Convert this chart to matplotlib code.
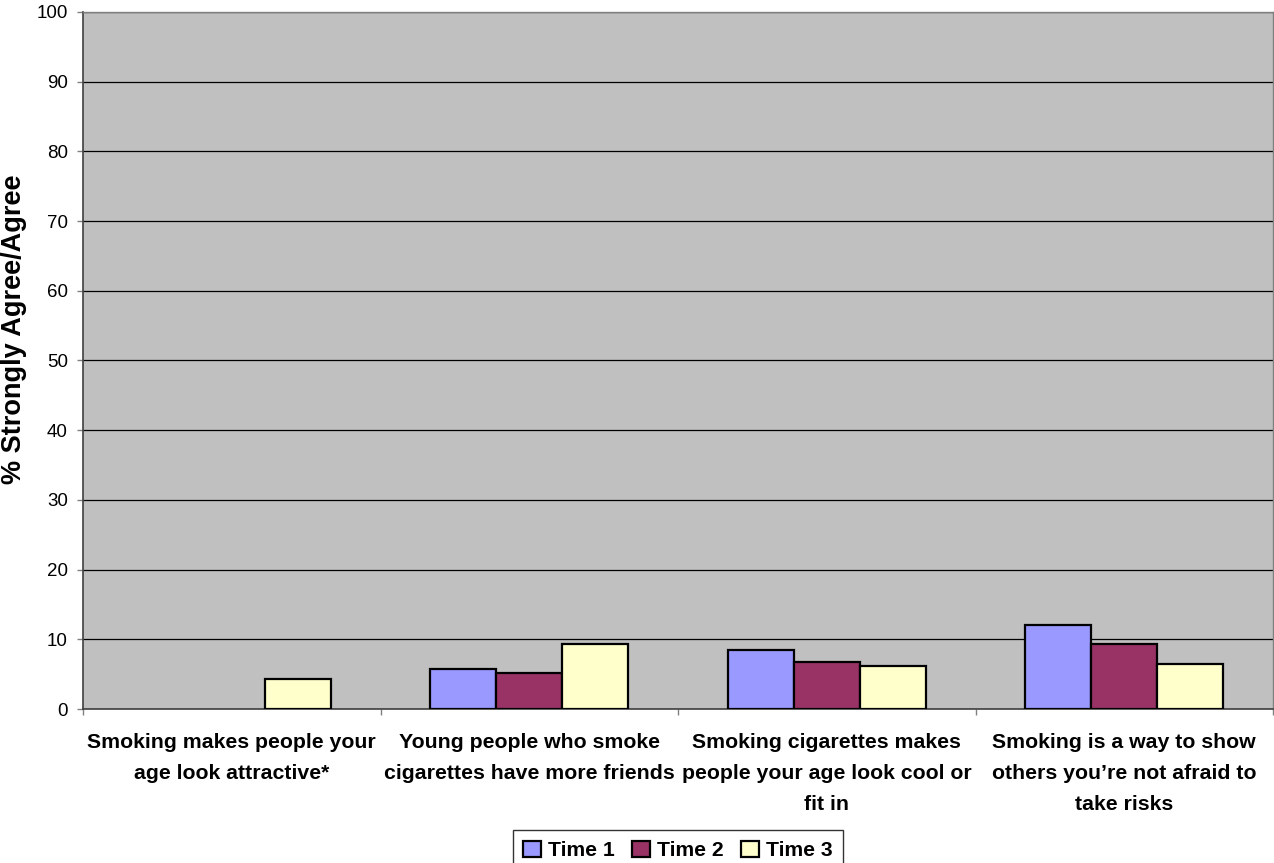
import matplotlib
matplotlib.use("Agg")
import matplotlib.pyplot as plt
import numpy as np

plt.rcParams['font.family'] = ['Liberation Sans', 'DejaVu Sans']

categories = [
    "Smoking makes people your\nage look attractive*",
    "Young people who smoke\ncigarettes have more friends",
    "Smoking cigarettes makes\npeople your age look cool or\nfit in",
    "Smoking is a way to show\nothers you\u2019re not afraid to\ntake risks",
]
series_names = ["Time 1", "Time 2", "Time 3"]
time1 = [0, 5.8, 8.5, 12.1]
time2 = [0, 5.2, 6.8, 9.3]
time3 = [4.3, 9.3, 6.2, 6.5]
colors = ["#9999FF", "#993366", "#FFFFCC"]
y_ticks = [0, 10, 20, 30, 40, 50, 60, 70, 80, 90, 100]

W, H = 1274, 863
fig = plt.figure(figsize=(W / 100, H / 100), dpi=100)
ax = fig.add_axes([83 / W, 1 - 709 / H, (1273 - 83) / W, (709 - 12) / H])
ax.set_facecolor("#C0C0C0")

n = len(categories)
x = np.arange(n)
width = 1 / 4.5
for i, (vals, name, c) in enumerate(zip([time1, time2, time3], series_names, colors)):
    xs = x + (i - 1) * width
    heights = np.array(vals, dtype=float)
    mask = heights > 0
    ax.bar(xs[mask], heights[mask], width=width, color=c, edgecolor="black",
           linewidth=1.6, label=name, zorder=3)

ax.set_xlim(-0.5, n - 0.5)
ax.set_ylim(0, 100)
ax.set_yticks(y_ticks)
ax.set_yticklabels([str(v) for v in y_ticks], fontsize=13.5)
ax.yaxis.grid(True, color="black", linewidth=0.9, zorder=1)
ax.set_axisbelow(True)

# category labels sit between the boundary ticks
ax.set_xticks(np.arange(n + 1) - 0.5)
ax.set_xticklabels([])
ax.set_xticks(x, minor=True)
ax.set_xticklabels(categories, minor=True, fontsize=15.3, fontweight="bold",
                   linespacing=1.8, va="top")
ax.tick_params(axis="x", which="minor", length=0, pad=17)
ax.tick_params(axis="x", which="major", length=4, color="#808080", width=1)
ax.tick_params(axis="y", length=4, color="#808080", width=1, pad=7)

for side in ["top", "right"]:
    ax.spines[side].set_color("#808080")
    ax.spines[side].set_linewidth(1)
for side in ["left", "bottom"]:
    ax.spines[side].set_color("#404040")
    ax.spines[side].set_linewidth(1.2)

fig.text(14 / W, 1 - 329 / H, "% Strongly Agree/Agree", rotation=90,
         ha="center", va="center", fontsize=19.5, fontweight="bold")

handles, labels = ax.get_legend_handles_labels()
leg = fig.legend(handles, labels, loc="upper center", ncol=3,
                 bbox_to_anchor=(678 / W, 1 - 830 / H),
                 prop={"size": 15.2, "weight": "bold"}, frameon=True,
                 fancybox=False, edgecolor="black", handlelength=0.85,
                 handleheight=0.85, handletextpad=0.35, columnspacing=0.8,
                 borderpad=0.5, borderaxespad=0)
leg.get_frame().set_linewidth(1)

fig.savefig("out.png", dpi=100)
